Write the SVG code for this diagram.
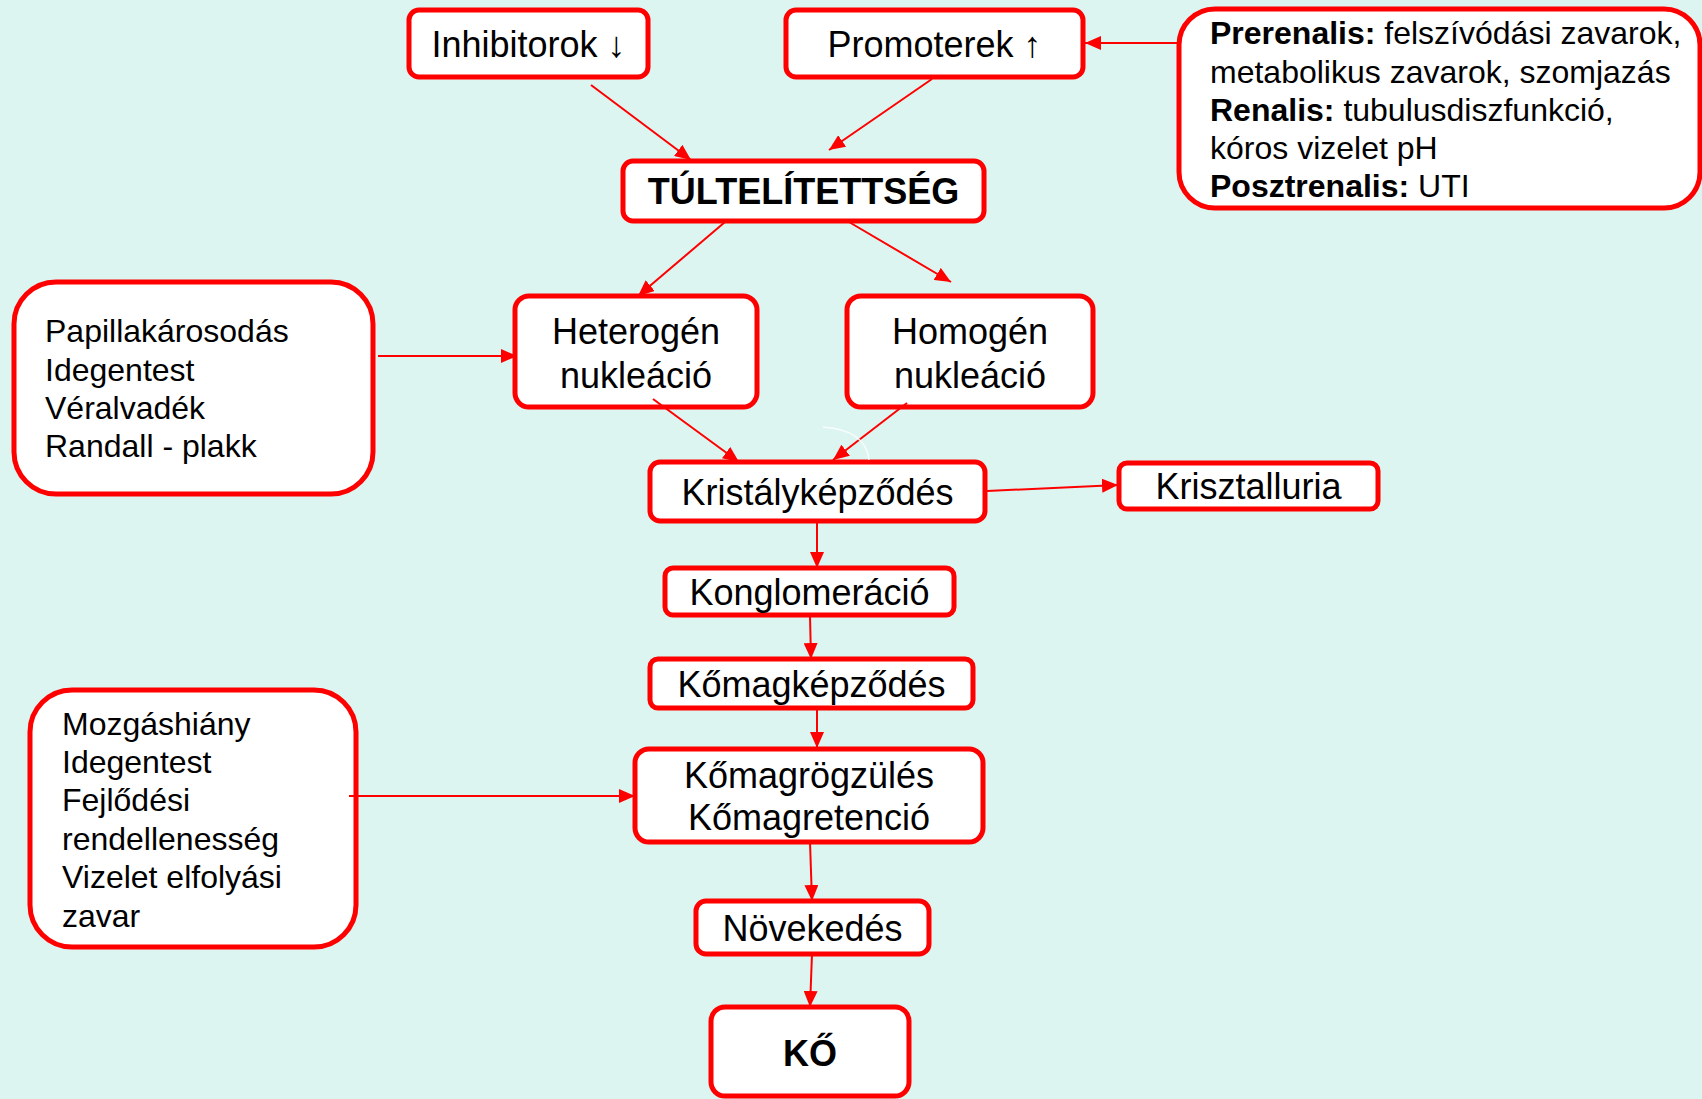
<svg xmlns="http://www.w3.org/2000/svg" width="1702" height="1099" viewBox="0 0 1702 1099">
<defs>
<marker id="ah" markerUnits="userSpaceOnUse" markerWidth="16" markerHeight="14" refX="16" refY="7" orient="auto">
<path d="M0,0 L16,7 L0,14 z" fill="#FF0000"/>
</marker>
<style>
.box{fill:#FFFFFF;stroke:#FF0000;stroke-width:5}
.t{font-family:"Liberation Sans",Arial,sans-serif;font-size:36px;fill:#000;text-anchor:middle}
.b{font-weight:bold}
.s{font-family:"Liberation Sans",Arial,sans-serif;font-size:32px;fill:#000}
.c line{stroke:#FF0000;stroke-width:2;marker-end:url(#ah)}
</style>
</defs>
<rect width="1702" height="1099" fill="#DCF5F1"/>

<g id="inhibitorok"><rect class="box" x="409" y="10" width="239" height="67" rx="10"/><text class="t" x="528.5" y="57">Inhibitorok ↓</text></g>
<g id="promoterek"><rect class="box" x="786" y="10" width="297" height="67" rx="10"/><text class="t" x="934.5" y="57">Promoterek ↑</text></g>
<g id="okok"><rect class="box" x="1179" y="9" width="521" height="199" rx="36"/>
<text class="s" x="1210" y="44"><tspan font-weight="bold">Prerenalis:</tspan> felszívódási zavarok,</text>
<text class="s" x="1210" y="82.5">metabolikus zavarok, szomjazás</text>
<text class="s" x="1210" y="121"><tspan font-weight="bold">Renalis:</tspan> tubulusdiszfunkció,</text>
<text class="s" x="1210" y="159">kóros vizelet pH</text>
<text class="s" x="1210" y="197"><tspan font-weight="bold">Posztrenalis:</tspan> UTI</text></g>
<g id="tultelitettseg"><rect class="box" x="623" y="161" width="361" height="60" rx="10"/><text class="t b" x="803.5" y="204">TÚLTELÍTETTSÉG</text></g>
<g id="papilla"><rect class="box" x="14" y="282" width="359" height="212" rx="42"/>
<text class="s" x="45" y="342">Papillakárosodás</text>
<text class="s" x="45" y="381">Idegentest</text>
<text class="s" x="45" y="419">Véralvadék</text>
<text class="s" x="45" y="457">Randall - plakk</text></g>
<g id="heterogen"><rect class="box" x="515" y="296" width="242" height="111" rx="14"/><text class="t" x="636" y="344">Heterogén</text><text class="t" x="636" y="388">nukleáció</text></g>
<g id="homogen"><rect class="box" x="847" y="296" width="246" height="111" rx="14"/><text class="t" x="970" y="344">Homogén</text><text class="t" x="970" y="388">nukleáció</text></g>
<g id="kristaly"><rect class="box" x="650" y="462" width="335" height="59" rx="10"/><text class="t" x="817.5" y="505">Kristályképződés</text></g>
<g id="krisztalluria"><rect class="box" x="1119" y="463" width="259" height="46" rx="8"/><text class="t" x="1248.5" y="499">Krisztalluria</text></g>
<g id="konglomeracio"><rect class="box" x="665" y="568" width="289" height="47" rx="8"/><text class="t" x="809.5" y="605">Konglomeráció</text></g>
<g id="komagkepzodes"><rect class="box" x="650" y="659" width="323" height="49" rx="8"/><text class="t" x="811.5" y="697">Kőmagképződés</text></g>
<g id="mozgas"><rect class="box" x="30" y="690" width="326" height="257" rx="42"/>
<text class="s" x="62" y="735">Mozgáshiány</text>
<text class="s" x="62" y="773">Idegentest</text>
<text class="s" x="62" y="811">Fejlődési</text>
<text class="s" x="62" y="850">rendellenesség</text>
<text class="s" x="62" y="888">Vizelet elfolyási</text>
<text class="s" x="62" y="927">zavar</text></g>
<g id="komagrogzules"><rect class="box" x="635" y="749" width="348" height="93" rx="14"/><text class="t" x="809" y="788">Kőmagrögzülés</text><text class="t" x="809" y="830">Kőmagretenció</text></g>
<g id="novekedes"><rect class="box" x="696" y="901" width="233" height="53" rx="10"/><text class="t" x="812.5" y="941">Növekedés</text></g>
<g id="ko"><rect class="box" x="711" y="1007" width="198" height="89" rx="14"/><text class="t b" x="810" y="1066">KŐ</text></g>

<g id="connectors" class="c">
<line x1="591" y1="85" x2="691" y2="160"/>
<line x1="932" y1="79" x2="829" y2="150"/>
<line x1="1179" y1="43" x2="1085" y2="43"/>
<line x1="725" y1="222" x2="638" y2="296"/>
<line x1="849" y1="222" x2="951" y2="282"/>
<line x1="378" y1="356" x2="517" y2="356"/>
<line x1="653" y1="399" x2="739" y2="462"/>
<line x1="907" y1="403" x2="833" y2="460"/>
<line x1="987" y1="491" x2="1118" y2="485"/>
<line x1="817" y1="521" x2="817" y2="568"/>
<line x1="810" y1="616" x2="811" y2="659"/>
<line x1="817" y1="708" x2="817" y2="748"/>
<line x1="349" y1="796" x2="635" y2="796"/>
<line x1="810" y1="842" x2="812" y2="901"/>
<line x1="812" y1="954" x2="810" y2="1007"/>
</g>
<path d="M823 427 Q866 430 869 460" fill="none" stroke="#FFFFFF" stroke-width="1.5" opacity="0.8"/>
</svg>
